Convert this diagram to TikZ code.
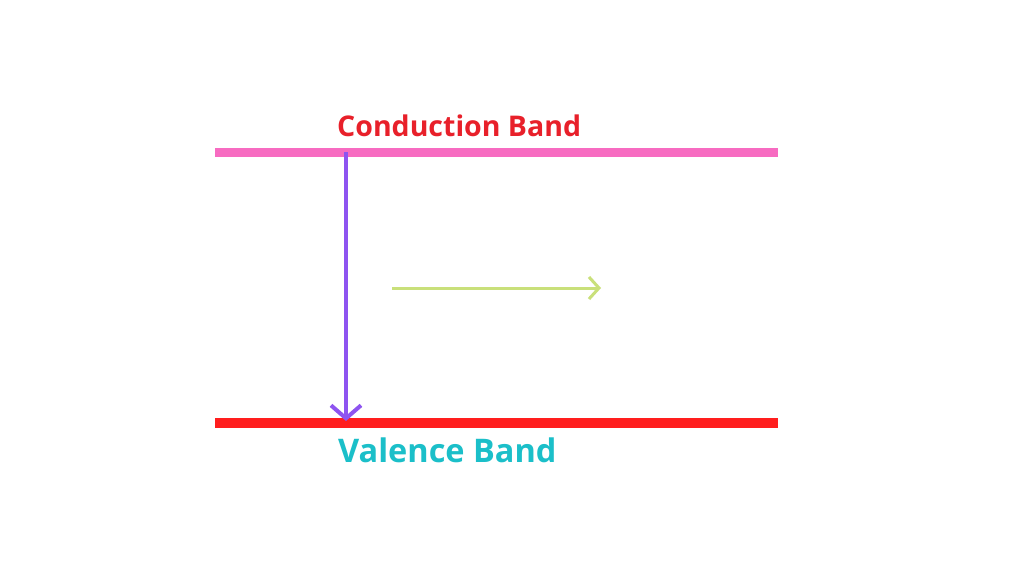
\documentclass[tikz,border=0pt]{standalone}
\usepackage{fontspec}
\setmainfont{Open Sans}
\usetikzlibrary{arrows.meta}
\definecolor{cpink}{HTML}{F76BC1}
\definecolor{cred}{HTML}{FF1E1E}
\definecolor{ctxt}{HTML}{E8202A}
\definecolor{cteal}{HTML}{1BBFC9}
\definecolor{cpurp}{HTML}{8E54F0}
\definecolor{cgreen}{HTML}{C9E07A}
\begin{document}
\begin{tikzpicture}[x=1pt,y=-1pt,
  lbl/.style={inner sep=0pt}]
\useasboundingbox[fill=white] (0,0) rectangle (1024,576);
\coordinate (cb1) at (215,152); \coordinate (cb2) at (778,152);
\coordinate (vb1) at (215,423); \coordinate (vb2) at (778,423);
\draw[cpink,line width=9] (cb1) -- (cb2);
\draw[cred,line width=10] (vb1) -- (vb2);
\coordinate (pa) at (346,152); \coordinate (pb) at (346,421);
\draw[cpurp,line width=4,-{Straight Barb[length=13pt,width=30pt,line width=4pt]}] (pa) -- (pb);
\coordinate (ga) at (392,288); \coordinate (gb) at (601,288);
\draw[cgreen,line width=3,-{Straight Barb[length=10pt,width=22pt,line width=3pt]}] (ga) -- (gb);
\node[lbl,text=ctxt,anchor=base west,font=\fontsize{28.5}{34}\selectfont\bfseries] (cbt) at (337,136) {Conduction Band};
\node[lbl,text=cteal,anchor=base west,font=\fontsize{32.5}{38}\selectfont\bfseries] (vbt) at (338,462) {Valence Band};
\end{tikzpicture}
\end{document}
